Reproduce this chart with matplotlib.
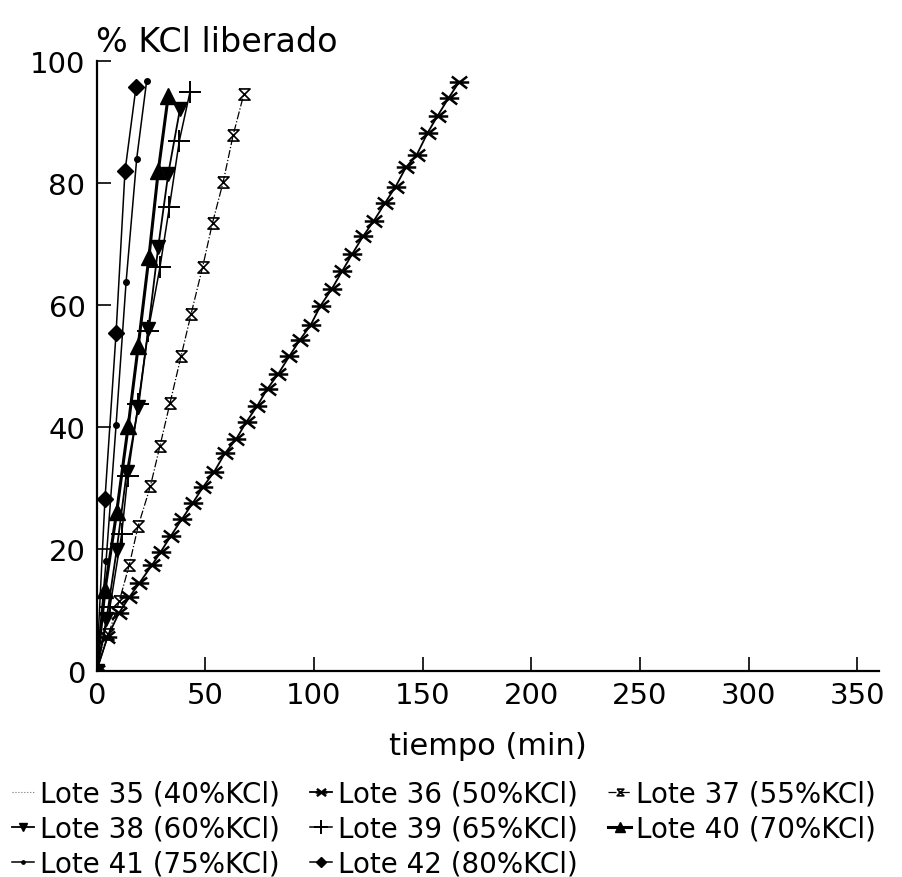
import matplotlib
matplotlib.use("Agg")
import matplotlib.pyplot as plt
from matplotlib.path import Path
import numpy as np

plt.rcParams['font.family'] = ['DejaVu Sans']

# ---- data ----
t35 = [0, 4, 7.5]
v35 = [0, 5.7, 5.2]

t36 = [0, 5, 10.3, 15.1, 19.7, 25.4, 29.5, 34.3, 39.3, 44.2, 49.1, 54.2, 59.1, 64.2,
       69.1, 74.0, 78.7, 83.6, 88.7, 93.6, 98.5, 103.1, 108.2, 113.1, 117.7, 122.7,
       127.6, 132.7, 137.6, 142.4, 147.3, 152.3, 156.9, 162.1, 166.9]
v36 = [0, 5.5, 9.5, 12.1, 14.4, 17.3, 19.5, 22.2, 24.9, 27.5, 30.2, 32.7, 35.7, 38.0,
       40.9, 43.5, 46.3, 48.7, 51.6, 54.3, 56.7, 59.9, 62.6, 65.6, 68.4, 71.3,
       73.8, 76.7, 79.4, 82.6, 84.6, 88.2, 91.0, 94.0, 96.6]

t37 = [0, 5.5, 10.5, 15.1, 19.2, 24.8, 29.2, 33.8, 38.9, 43.5, 48.8, 53.4, 58.3, 62.9, 67.8]
v37 = [0, 6.0, 11.5, 17.4, 23.8, 30.3, 36.9, 43.9, 51.6, 58.5, 66.2, 73.5, 80.2, 87.9, 94.6]

t38 = [0, 4.6, 9.3, 13.9, 19.2, 23.8, 28.4, 33.0, 38.4]
v38 = [0, 8.5, 19.9, 32.6, 43.2, 56.0, 69.5, 81.5, 92.1]

t39 = [0, 6.2, 11.6, 14.4, 19.2, 23.8, 29.2, 33.5, 38.1, 43.0]
v39 = [0, 10.5, 22.5, 32.0, 43.8, 55.8, 66.2, 76.0, 86.9, 94.9]

t40 = [0, 3.9, 9.3, 14.6, 19.2, 24.1, 28.4, 33.0]
v40 = [0, 13.3, 26.1, 40.2, 53.3, 67.8, 81.9, 94.3]

t41 = [0, 4.4, 9.0, 13.6, 18.5, 23.1]
v41 = [0, 18.0, 40.3, 63.7, 84.0, 96.8]

t42 = [0, 3.9, 9.0, 13.1, 18.2]
v42 = [0, 28.2, 55.4, 81.9, 95.8]

labels = ["Lote 35 (40%KCl)", "Lote 36 (50%KCl)", "Lote 37 (55%KCl)",
          "Lote 38 (60%KCl)", "Lote 39 (65%KCl)", "Lote 40 (70%KCl)",
          "Lote 41 (75%KCl)", "Lote 42 (80%KCl)"]
xticks = [0, 50, 100, 150, 200, 250, 300, 350]
yticks = [0, 20, 40, 60, 80, 100]

# hourglass marker
hourglass = Path([(-1, 1), (1, 1), (-1, -1), (1, -1), (-1, 1)],
                 [Path.MOVETO, Path.LINETO, Path.LINETO, Path.LINETO, Path.LINETO])
# flat asterisk: horizontal bar plus a flat X
a = np.deg2rad(38)
ca, sa = np.cos(a), np.sin(a)
flatstar = Path([(-1, 0), (1, 0), (-ca, -sa), (ca, sa), (-ca, sa), (ca, -sa)],
                [Path.MOVETO, Path.LINETO, Path.MOVETO, Path.LINETO, Path.MOVETO, Path.LINETO])

fig = plt.figure(figsize=(9.02, 8.78), dpi=100)
ax = fig.add_axes([96.5 / 902, 1 - 672 / 878, (879 - 96.5) / 902, (672 - 62) / 878])

k = 'black'
h35, = ax.plot(t35, v35, ':', color='0.45', lw=0.8, label=labels[0])
h36, = ax.plot(t36, v36, '-', color=k, lw=1.3, marker=flatstar, ms=14, mew=1.8, label=labels[1])
h37, = ax.plot(t37, v37, '-.', color=k, lw=0.9, marker=hourglass, ms=8, mew=1.2,
               mfc='none', mec=k, label=labels[2])
h38, = ax.plot(t38, v38, '-', color=k, lw=1.3, marker='v', ms=10, label=labels[3])
h39, = ax.plot(t39, v39, '-', color=k, lw=1.1, marker='+', ms=16, mew=1.4, label=labels[4])
h40, = ax.plot(t40, v40, '-', color=k, lw=2.2, marker='^', ms=11, label=labels[5])
h41, = ax.plot(t41, v41, '-', color=k, lw=1.1, marker='o', ms=4, label=labels[6])
h42, = ax.plot(t42, v42, '-', color=k, lw=1.1, marker='D', ms=8, label=labels[7])

ax.set_xlim(0, 360)
ax.set_ylim(0, 100)
ax.set_xticks(xticks)
ax.set_yticks(yticks)
ax.spines['top'].set_visible(False)
ax.spines['right'].set_visible(False)
ax.spines['left'].set_linewidth(1.6)
ax.spines['bottom'].set_linewidth(1.6)
ax.tick_params(axis='both', direction='in', length=10, width=1.2, labelsize=21)
ax.tick_params(axis='y', pad=8)
ax.tick_params(axis='x', pad=7)
ax.set_xlabel("tiempo (min)", fontsize=22, labelpad=16)

fig.text(96 / 902, 1 - 42 / 878, "% KCl liberado", fontsize=24, ha='left', va='center')

order = [h35, h38, h41, h36, h39, h42, h37, h40]
fig.legend(handles=order, labels=[h.get_label() for h in order], ncol=3,
           loc='upper left', bbox_to_anchor=(12 / 902, 1 - 781 / 878), frameon=False,
           fontsize=20, handlelength=0.8, handletextpad=0.2, columnspacing=1.1,
           labelspacing=0.25, markerscale=0.6, borderaxespad=0, borderpad=0)

fig.savefig("out.png", dpi=100)
